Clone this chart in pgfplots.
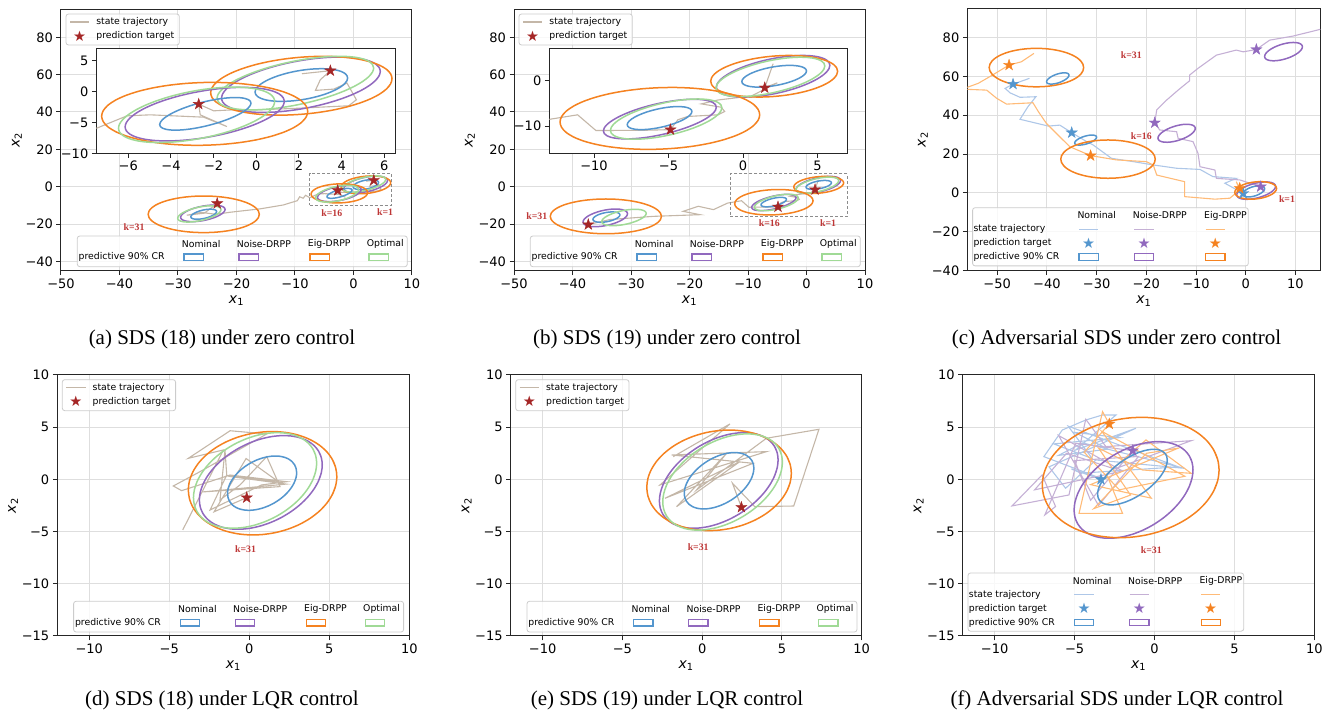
\documentclass[border=0pt]{standalone}
\usepackage{pgfplots}
\pgfplotsset{compat=1.18}
\usepackage{pgfplotstable}
\usepackage{fontspec}
\setmainfont{Liberation Serif}
\newfontfamily\dejavu{DejaVu Sans}

\definecolor{cblue}{RGB}{84,150,206}
\definecolor{cpurple}{RGB}{145,105,190}
\definecolor{corange}{RGB}{245,130,32}
\definecolor{cgreen}{RGB}{160,218,150}
\definecolor{ctraj}{RGB}{196,183,168}
\definecolor{cstar}{RGB}{165,38,38}
\definecolor{klab}{RGB}{190,55,55}
\definecolor{lblue}{RGB}{174,199,232}
\definecolor{lpurple}{RGB}{197,176,213}
\definecolor{lorange}{RGB}{255,187,120}

\pgfdeclareplotmark{fstar}{%
  \pgfpathmoveto{\pgfpointpolar{90}{\pgfplotmarksize}}%
  \pgfpathlineto{\pgfpointpolar{126}{0.382\pgfplotmarksize}}%
  \pgfpathlineto{\pgfpointpolar{162}{\pgfplotmarksize}}%
  \pgfpathlineto{\pgfpointpolar{198}{0.382\pgfplotmarksize}}%
  \pgfpathlineto{\pgfpointpolar{234}{\pgfplotmarksize}}%
  \pgfpathlineto{\pgfpointpolar{270}{0.382\pgfplotmarksize}}%
  \pgfpathlineto{\pgfpointpolar{306}{\pgfplotmarksize}}%
  \pgfpathlineto{\pgfpointpolar{342}{0.382\pgfplotmarksize}}%
  \pgfpathlineto{\pgfpointpolar{18}{\pgfplotmarksize}}%
  \pgfpathlineto{\pgfpointpolar{54}{0.382\pgfplotmarksize}}%
  \pgfpathclose\pgfusepathqfillstroke}

\newcommand{\tickfont}{\dejavu\fontsize{13}{13}\selectfont}
\newcommand{\legfont}{\dejavu\fontsize{9.3}{10}\selectfont}
\newcommand{\starfont}{\dejavu\fontsize{14.5}{14.5}\selectfont}
\newcommand{\capfont}{\fontsize{21}{24}\selectfont}
\newcommand{\kfont}{\bfseries\fontsize{9.8}{10}\selectfont}

\pgfplotstableread{
c s
0.9397 -0.3420
0.9848 -0.1736
1 0
0.9848 0.1736
0.9397 0.3420
0.8660 0.5
0.7660 0.6428
0.6428 0.7660
0.5 0.8660
0.3420 0.9397
0.1736 0.9848
0 1
-0.1736 0.9848
-0.3420 0.9397
-0.5 0.8660
-0.6428 0.7660
-0.7660 0.6428
-0.8660 0.5
-0.9397 0.3420
-0.9848 0.1736
-1 0
-0.9848 -0.1736
-0.9397 -0.3420
-0.8660 -0.5
-0.7660 -0.6428
-0.6428 -0.7660
-0.5 -0.8660
-0.3420 -0.9397
-0.1736 -0.9848
0 -1
0.1736 -0.9848
0.3420 -0.9397
0.5 -0.8660
0.6428 -0.7660
0.7660 -0.6428
0.8660 -0.5
0.9397 -0.3420
0.9848 -0.1736
1 0
0.9848 0.1736
0.9397 0.3420
}\unitcirc

% trajectories
\pgfplotstableread{
x y
2.14 2.93
3.47 3.42
3.0 1.96
2.77 0.22
3.63 0.43
4.25 1.41
4.69 -1.30
4.33 -2.28
2.06 -2.66
0.19 -2.93
-1.06 -2.93
-2.0 -3.1
-2.70 -2.01
-2.63 -3.75
-1.38 -5.65
-2.47 -4.13
-4.97 -3.75
-6.06 -3.91
-7.48 -5.92
-8.2 -4.6
-8.6 -6.2
-9.2 -5.4
-9.6 -7.5
-12 -9.8
-16 -11.9
-21.1 -13.7
-23.5 -14.8
-26 -13.8
-28.5 -15.3
-25.5 -14.2
-23.3 -9
}\trajA

\pgfplotstableread{
x y
2.02 3.7
1.46 -1.59
2.3 -0.5
0.56 -3.41
-1.68 -4.28
-2.8 -5.14
-1.46 -5.87
-1.23 -6.81
-1.68 -7.54
-3.7 -7.9
-4.37 -8.62
-4.87 -10.8
-6.61 -10.94
-9.87 -11.0
-11.1 -7.54
-13.5 -8.8
-15.9 -12.3
-18.5 -10.5
-21.1 -13.2
-18.2 -15
-26.2 -15.9
-33.6 -17.6
-37.3 -20.3
}\trajB

\pgfplotstableread{
x y
-0.54 -0.17
-4.2 5.0
-1.9 7.5
-6.6 8.4
-9.2 12.1
-13.9 12.7
-18.6 14.4
-22.6 16.1
-27.0 17.8
-30.7 24.7
-32.0 26.4
-35.0 31.0
-37.4 34.9
-39.7 34.4
-45.4 37.9
-43.8 44.4
-42.2 49.5
-45.4 49.2
-47.4 51.5
-48.4 53.8
-46.8 56.0
-44.1 58.4
-43.5 59.0
}\trajCb

\pgfplotstableread{
x y
3.0 3.2
-1.2 6.7
-5.9 7.5
-6.2 11.8
-9.2 13.5
-9.6 20.4
-10.6 26.4
-13.6 28.1
-13.9 31.5
-17.3 32.4
-18.3 36.1
-17.9 42.7
-15.9 47.8
-13.6 52.9
-11.3 57.7
-11.3 60.6
-9.6 64.1
-5.9 70.9
-1.9 73.5
-0.5 72.6
2.14 73.8
4.8 78.6
9.5 80.7
14.9 84.1
16 84.5
}\trajCp

\pgfplotstableread{
x y
-1.2 2.4
-1.9 5.8
-1.2 1.5
-3.2 -2.7
-6.2 -3.2
-12.3 -1.9
-12.3 5.8
-17.9 9.2
-18.6 14.4
-20.0 16.1
-26.0 17.0
-31.2 19.2
-35.4 23.8
-37.4 28.9
-40.1 35.8
-41.7 41.8
-42.8 46.4
-48.1 45.7
-50.1 48.7
-52.1 52.9
-57 53.4
-53.8 56.4
-51.5 59.8
-47.6 65.8
-45.1 67.5
-42.6 71.8
}\trajCo

\pgfplotstableread{
x y
-4.16 -4.84
-1.62 2.82
-3.81 2.02
-1.2 4.66
1.09 4.35
-3.08 0.74
-4.75 -0.63
-4.23 -1.08
-1.2 0.42
2.34 -0.22
0.77 -0.53
-2.45 -2.93
-1.41 0.42
-1.52 2.82
-1.83 -1.97
-0.58 -0.53
1.09 2.18
1.92 -0.69
-2.9 -1.2
2.3 -0.45
-1.3 0.3
1.8 -0.2
-0.2 2.0
-2.2 -3.1
-0.16 -1.75
}\trajD

\pgfplotstableread{
x y
-1.81 2.18
1.74 5.31
-2.64 -0.53
4.03 2.66
-1.91 2.34
3.19 1.54
-2.33 -1.81
2.36 1.7
-1.6 -2.61
1.53 2.5
-0.35 -1.01
4.03 3.94
7.32 4.8
5.74 -2.55
3.3 -2.61
1.9 -0.37
2.46 -2.67
}\trajE

\pgfplotstableread{
x y
-3.36 0.1
-6.92 2.18
-5.77 4.73
-4.3 5.69
-3.25 6.17
-2.41 6.17
-4.93 2.82
-1.16 4.9
-6.6 1.2
-5.56 -0.85
-3.67 1.86
1.88 1.06
-4.5 3.5
-6.0 2.3
-2.9 2.9
-5.0 4.5
-2.2 4.0
-6.3 3.4
-3.9 2.0
-5.4 5.1
1.5 1.2
-4.6 0.6
-5.2 1.0
-3.35 0.0
}\trajFb

\pgfplotstableread{
x y
-1.36 2.75
-4.93 3.46
-6.86 -3.4
-6.19 -2.6
-7.03 0.43
-8.91 -2.54
-5.35 -1.49
-4.3 5.76
-3.04 3.14
2.3 3.71
-2.5 1.0
-5.5 2.5
-7.5 -1.0
-2.0 0.8
-6.0 4.2
-3.5 -2.5
-1.0 2.2
-5.0 1.8
-4.0 -2.0
-1.36 2.75
}\trajFp

\pgfplotstableread{
x y
-2.83 5.31
-3.25 6.49
-4.72 -3.25
-2.0 -3.25
-3.0 0.5
-0.53 3.78
2.3 0.58
-0.74 0.9
-3.5 3.0
-1.5 -1.5
-3.8 -2.8
-0.5 2.5
1.5 3.0
-4.0 -0.5
-0.2 -1.8
-3.3 4.6
1.9 0.3
-2.2 -1.0
-4.4 2.6
-2.83 5.31
}\trajFo

\newcommand{\Ell}[6]{\addplot[#1, smooth, line width=1.5pt] table[x expr={#2+(#4)*\thisrow{c}}, y expr={#3+(#5)*\thisrow{c}+(#6)*\thisrow{s}}]{\unitcirc};}

\newcommand{\ellsA}{%
\Ell{cblue}{2.11}{1.09}{2.17}{1.14}{2.40}
\Ell{cpurple}{2.09}{1.14}{3.72}{2.17}{3.94}
\Ell{corange}{2.11}{0.98}{4.25}{1.14}{4.64}
\Ell{cgreen}{1.83}{1.41}{3.67}{2.45}{3.6}
\Ell{cblue}{-2.39}{-3.59}{2.14}{1.74}{2.0}
\Ell{cpurple}{-2.42}{-3.64}{3.73}{2.07}{3.83}
\Ell{corange}{-2.42}{-3.59}{4.83}{0.38}{5.1}
\Ell{cgreen}{-2.8}{-3.75}{3.66}{2.17}{3.95}
\Ell{cblue}{-25.6}{-14.75}{2.2}{1.4}{2.3}
\Ell{cpurple}{-25.75}{-14.3}{3.8}{2.1}{3.9}
\Ell{corange}{-25.6}{-14.8}{9.5}{0}{9.8}
\Ell{cgreen}{-26.35}{-14.6}{3.7}{2.3}{3.7}
}
\newcommand{\ellsB}{%
\Ell{cblue}{2.09}{0.94}{2.17}{1.16}{2.09}
\Ell{cpurple}{2.02}{0.94}{3.81}{2.39}{3.9}
\Ell{corange}{2.09}{0.94}{4.26}{1.09}{4.44}
\Ell{cgreen}{1.84}{0.8}{3.65}{2.4}{3.6}
\Ell{cblue}{-5.6}{-8.26}{2.17}{1.45}{2.08}
\Ell{cpurple}{-5.58}{-8.48}{3.79}{2.6}{3.5}
\Ell{corange}{-5.58}{-8.33}{6.7}{0.8}{6.76}
\Ell{cgreen}{-5.16}{-8.48}{3.74}{2.5}{3.65}
\Ell{cblue}{-34.2}{-16.3}{2.3}{1.2}{2.5}
\Ell{cpurple}{-34.4}{-16.7}{3.8}{2.2}{4.2}
\Ell{corange}{-34.3}{-15.9}{9.5}{0}{9.3}
\Ell{cgreen}{-31.2}{-16.5}{3.8}{2.2}{3.8}
}

\pgfplotsset{
  base/.style={scale only axis, anchor=south west,
    axis line style={black!85, line width=1pt},
    tick pos=left, tick align=outside, major tick length=4.5pt,
    tick style={black!85, line width=1pt},
    ticklabel style={font=\tickfont},
    label style={font=\dejavu\fontsize{14}{14}\selectfont},
    xlabel={{\itshape x}\textsubscript{1}},
    ylabel={{\itshape x}\textsubscript{2}},
  },
  grd/.style={grid=major, major grid style={black!13, line width=1pt}},
  traj/.style={ctraj, line width=1.1pt},
  starm/.style={only marks, mark=fstar, mark size=5.8pt, cstar, mark options={line width=0.4pt}},
  inset/.style={base, axis background/.style={fill=white}, xlabel={}, ylabel={}},
  rowone/.style={xlabel style={at={(axis description cs:0.5,-0.116)}, anchor=center},
                 ylabel style={at={(axis description cs:-0.1254,0.5)}, anchor=center}},
  rowtwo/.style={xlabel style={at={(axis description cs:0.5,-0.115)}, anchor=center},
                 ylabel style={at={(axis description cs:-0.1254,0.5)}, anchor=center},
                 xmin=-12, xmax=10, ymin=-15, ymax=10,
                 xtick={-10,-5,0,5,10}, xticklabels={−10,−5,0,5,10},
                 ytick={-15,-10,-5,0,5,10}, yticklabels={−15,−10,−5,0,5,10}},
}

\tikzset{
  legbox/.style={draw=black!20, fill=white, fill opacity=0.8, rounded corners=2.5pt, line width=0.8pt},
  lt/.style={anchor=west, inner sep=0pt, font=\legfont},
  klabs/.style={font=\kfont, text=klab},
}

\newcommand{\legA}[2]{%
\begin{scope}[shift={(#1,#2)}]
\draw[legbox] (5,4.7) rectangle (118.3,35.7);
\draw[ctraj, line width=1.1pt] (9,12.7) -- (28.3,12.7);
\node[text=cstar, font=\starfont, inner sep=0pt] at (18.6,26.7) {★};
\node[lt] at (35.2,12.7) {state trajectory};
\node[lt] at (35.2,26.7) {prediction target};
\end{scope}}

\newcommand{\legB}[2]{%
\begin{scope}[shift={(#1,#2)}]
\draw[legbox] (16.3,-34.7) rectangle (346.3,-4);
\node[lt] at (17.5,-13.4) {predictive 90\% CR};
\node[lt] at (120.7,-27) {Nominal};
\node[lt] at (175.7,-27) {Noise-DRPP};
\node[lt] at (246.7,-27) {Eig-DRPP};
\node[lt] at (305.7,-27) {Optimal};
\draw[cblue, line width=1.1pt] (123,-16.7) rectangle (142.3,-10);
\draw[cpurple, line width=1.1pt] (178,-16.7) rectangle (197.3,-10);
\draw[corange, line width=1.1pt] (249,-16.7) rectangle (268.3,-10);
\draw[cgreen, line width=1.1pt] (308,-16.7) rectangle (327.3,-10);
\end{scope}}

\newcommand{\legC}[2]{%
\begin{scope}[shift={(#1,#2)}]
\draw[legbox] (5.3,-63) rectangle (281,-4.8);
\node[lt] at (110,-55.2) {Nominal};
\node[lt] at (165.3,-55.2) {Noise-DRPP};
\node[lt] at (236.7,-55.2) {Eig-DRPP};
\node[lt] at (6,-41.5) {state trajectory};
\node[lt] at (6,-27.3) {prediction target};
\node[lt] at (6,-13.5) {predictive 90\% CR};
\draw[lblue, line width=1.1pt] (111.7,-41.5) -- (131,-41.5);
\draw[lpurple, line width=1.1pt] (167,-41.5) -- (186.3,-41.5);
\draw[lorange, line width=1.1pt] (238.4,-41.5) -- (257.7,-41.5);
\node[text=cblue, font=\starfont, inner sep=0pt] at (121.4,-27.3) {★};
\node[text=cpurple, font=\starfont, inner sep=0pt] at (176.7,-27.3) {★};
\node[text=corange, font=\starfont, inner sep=0pt] at (248,-27.3) {★};
\draw[cblue, line width=1.1pt] (111.7,-16.9) rectangle (131,-10.2);
\draw[cpurple, line width=1.1pt] (167,-16.9) rectangle (186.3,-10.2);
\draw[corange, line width=1.1pt] (238.4,-16.9) rectangle (257.7,-10.2);
\end{scope}}

\begin{document}
\begin{tikzpicture}
\path[use as bounding box] (0,0) rectangle (1333pt,714pt);

% ---------------- (a)
\begin{axis}[base, grd, rowone, at={(61pt,443.3pt)}, width=351pt, height=261.4pt,
  xmin=-50, xmax=10, ymin=-45, ymax=95,
  xtick={-50,-40,-30,-20,-10,0,10}, xticklabels={−50,−40,−30,−20,−10,0,10},
  ytick={-40,-20,0,20,40,60,80}, yticklabels={−40,−20,0,20,40,60,80}]
\addplot[traj] table {\trajA};
\ellsA
\addplot[dashed, black!45, line width=0.9pt, dash pattern=on 3pt off 2pt] coordinates {(-7.5,-10) (6.5,-10) (6.5,7) (-7.5,7) (-7.5,-10)};
\addplot[starm] coordinates {(3.47,3.42) (-2.70,-2.01) (-23.3,-9)};
\node[klabs] at (axis cs:-37.5,-21.8) {k=31};
\node[klabs] at (axis cs:-3.7,-14) {k=16};
\node[klabs] at (axis cs:5.4,-13.7) {k=1};
\end{axis}
\begin{axis}[inset, at={(96.3pt,560.7pt)}, width=298.7pt, height=104.6pt,
  xmin=-7.5, xmax=6.5, ymin=-10, ymax=7,
  xtick={-6,-4,-2,0,2,4,6}, xticklabels={−6,−4,−2,0,2,4,6},
  ytick={-10,-5,0,5}, yticklabels={−10,−5,0,5}]
\addplot[traj] table {\trajA};
\ellsA
\addplot[starm] coordinates {(3.47,3.42) (-2.70,-2.01) (-23.3,-9)};
\end{axis}

% ---------------- (b)
\begin{axis}[base, grd, rowone, at={(514pt,443.3pt)}, width=351pt, height=261.4pt,
  xmin=-50, xmax=10, ymin=-45, ymax=95,
  xtick={-50,-40,-30,-20,-10,0,10}, xticklabels={−50,−40,−30,−20,−10,0,10},
  ytick={-40,-20,0,20,40,60,80}, yticklabels={−40,−20,0,20,40,60,80}]
\addplot[traj] table {\trajB};
\ellsB
\addplot[dashed, black!45, line width=0.9pt, dash pattern=on 3pt off 2pt] coordinates {(-13,-16) (7,-16) (7,7) (-13,7) (-13,-16)};
\addplot[starm] coordinates {(1.46,-1.59) (-4.87,-10.8) (-37.3,-20.3)};
\node[klabs] at (axis cs:-46.1,-15.9) {k=31};
\node[klabs] at (axis cs:-6.35,-19.8) {k=16};
\node[klabs] at (axis cs:3.7,-19.4) {k=1};
\end{axis}
\begin{axis}[inset, at={(549.3pt,560.7pt)}, width=298pt, height=104.6pt,
  xmin=-13, xmax=7, ymin=-16, ymax=7,
  xtick={-10,-5,0,5}, xticklabels={−10,−5,0,5},
  ytick={-10,0}, yticklabels={−10,0}]
\addplot[traj] table {\trajB};
\ellsB
\addplot[starm] coordinates {(1.46,-1.59) (-4.87,-10.8) (-37.3,-20.3)};
\end{axis}

% ---------------- (c)
\begin{axis}[base, grd, rowone, at={(967.3pt,443.3pt)}, width=353pt, height=262.4pt,
  xmin=-56, xmax=15, ymin=-40, ymax=95,
  xtick={-50,-40,-30,-20,-10,0,10}, xticklabels={−50,−40,−30,−20,−10,0,10},
  ytick={-40,-20,0,20,40,60,80}, yticklabels={−40,−20,0,20,40,60,80},
  ylabel style={at={(axis description cs:-0.1256,0.5)}}]
\addplot[lblue, line width=1.1pt] table {\trajCb};
\addplot[lpurple, line width=1.1pt] table {\trajCp};
\addplot[lorange, line width=1.1pt] table {\trajCo};
\Ell{cblue}{1.6}{0.8}{2.2}{1.4}{2.5}
\Ell{cpurple}{2.1}{1.2}{3.9}{2.2}{3.9}
\Ell{corange}{2.0}{1.3}{4.2}{1.0}{4.4}
\Ell{cblue}{-32.2}{27.2}{2.2}{1.5}{2.1}
\Ell{cpurple}{-13.9}{30.7}{3.75}{2.5}{3.9}
\Ell{corange}{-27.7}{17.4}{9.5}{0}{9.85}
\Ell{cblue}{-37.8}{58.9}{2.25}{1.7}{2.35}
\Ell{cpurple}{7.6}{72.7}{3.8}{2.5}{4.0}
\Ell{corange}{-42.1}{64.5}{9.5}{0}{9.9}
\addplot[starm, cblue] coordinates {(-0.5,-0.2) (-35.0,31.0) (-46.8,56.0)};
\addplot[starm, cpurple] coordinates {(3.0,3.2) (-18.3,36.1) (2.14,73.8)};
\addplot[starm, corange] coordinates {(-1.2,2.4) (-31.2,19.2) (-47.6,65.8)};
\node[klabs] at (axis cs:-23.0,70.9) {k=31};
\node[klabs] at (axis cs:-21.0,29.3) {k=16};
\node[klabs] at (axis cs:8.3,-3.1) {k=1};
\end{axis}

% ---------------- (d)
\begin{axis}[base, grd, rowtwo, at={(57.3pt,78pt)}, width=352pt, height=261pt]
\addplot[traj] table {\trajD};
\Ell{cblue}{0.8}{-0.36}{2.16}{1.0}{2.4}
\Ell{cpurple}{0.72}{-0.29}{3.84}{1.68}{4.16}
\Ell{corange}{0.83}{-0.37}{4.64}{0.64}{4.91}
\Ell{cgreen}{0.36}{-0.1}{3.85}{1.65}{4.27}
\addplot[starm] coordinates {(-0.16,-1.75)};
\node[klabs] at (axis cs:-0.23,-6.7) {k=31};
\end{axis}

% ---------------- (e)
\begin{axis}[base, grd, rowtwo, at={(510.7pt,78pt)}, width=351pt, height=261pt]
\addplot[traj] table {\trajE};
\Ell{cblue}{1.06}{-0.13}{2.18}{1.2}{2.42}
\Ell{cpurple}{1.04}{-0.1}{3.72}{1.96}{4.14}
\Ell{corange}{1.06}{-0.09}{4.53}{0.67}{4.77}
\Ell{cgreen}{1.28}{-0.25}{3.75}{1.9}{4.2}
\addplot[starm] coordinates {(2.46,-2.67)};
\node[klabs] at (axis cs:-0.25,-6.45) {k=31};
\end{axis}

% ---------------- (f)
\begin{axis}[base, grd, rowtwo, at={(962.7pt,78pt)}, width=351.6pt, height=261pt]
\addplot[lblue, line width=1.1pt] table {\trajFb};
\addplot[lpurple, line width=1.1pt] table {\trajFp};
\addplot[lorange, line width=1.1pt] table {\trajFo};
\Ell{cblue}{-1.38}{0.22}{2.18}{1.64}{2.1}
\Ell{cpurple}{-1.31}{-1.01}{3.72}{1.92}{4.21}
\Ell{corange}{-1.49}{0.18}{5.53}{0.72}{5.72}
\addplot[starm, cblue] coordinates {(-3.35,0.0)};
\addplot[starm, cpurple] coordinates {(-1.36,2.75)};
\addplot[starm, corange] coordinates {(-2.83,5.31)};
\node[klabs] at (axis cs:-0.2,-6.8) {k=31};
\end{axis}

% ---------------- legends and captions (pixel coordinates, y downwards)
\begin{scope}[shift={(0pt,714pt)}, x=1pt, y=-1pt]
\legA{61}{9.3}
\legA{514}{9.3}
\legA{57.3}{375}
\legA{510.7}{375}
\legB{61}{270.7}
\legB{514}{270.7}
\legB{57.3}{636}
\legB{510.7}{636}
\legC{967.3}{270.7}
\legC{962.7}{636}
\node[font=\capfont, anchor=base] at (222,345) {(a) SDS (18) under zero control};
\node[font=\capfont, anchor=base] at (667,345) {(b) SDS (19) under zero control};
\node[font=\capfont, anchor=base] at (1116.5,345) {(c) Adversarial SDS under zero control};
\node[font=\capfont, anchor=base] at (222,706) {(d) SDS (18) under LQR control};
\node[font=\capfont, anchor=base] at (667,706) {(e) SDS (19) under LQR control};
\node[font=\capfont, anchor=base] at (1117,706) {(f) Adversarial SDS under LQR control};
\end{scope}
\end{tikzpicture}
\end{document}
